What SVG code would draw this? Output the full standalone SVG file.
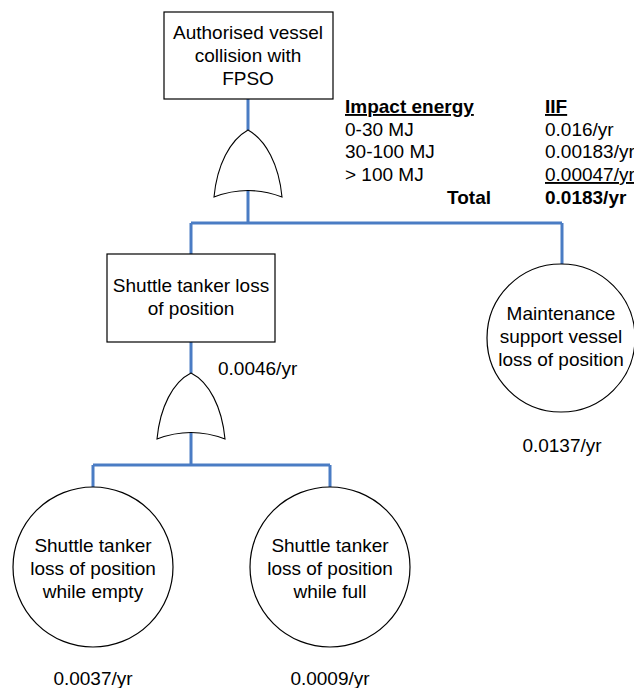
<svg xmlns="http://www.w3.org/2000/svg" width="634" height="688" viewBox="0 0 634 688">
<style>
text{font-family:"Liberation Sans",Arial,sans-serif;font-size:19px;fill:#000}
.c{text-anchor:middle}
.b{font-weight:bold}
.u{text-decoration:underline}
.node{fill:#fff;stroke:#000;stroke-width:1.2}
.gate{fill:#fff;stroke:#000;stroke-width:1.1}
.wire{fill:none;stroke:#4a7cc4;stroke-width:3}
</style>
<rect width="634" height="688" fill="#fff"/>
<g id="connectors">
<path class="wire" d="M248,99V130M248,190V223M191,223H562M191,223V254M562,223V264"/>
<path class="wire" d="M191,342V373M191,433V465M93,465H330M93,465V487M330,465V487"/>
</g>
<g id="top-event">
<rect class="node" x="164" y="12" width="169" height="87"/>
<text class="c" x="248" y="39">Authorised vessel</text>
<text class="c" x="248" y="62">collision with</text>
<text class="c" x="248" y="85">FPSO</text>
</g>
<g id="or-gate-1">
<path class="gate" d="M214,197C217,165 230,140 248,130C266,140 279,165 282,197Q248,184 214,197Z"/>
</g>
<g id="shuttle-tanker">
<rect class="node" x="107" y="254" width="168" height="88"/>
<text class="c" x="191" y="292">Shuttle tanker loss</text>
<text class="c" x="191" y="315">of position</text>
<text x="218" y="375">0.0046/yr</text>
</g>
<g id="or-gate-2">
<path class="gate" d="M157,439C160,407 173,382 191,373C209,382 222,407 225,439Q191,426 157,439Z"/>
</g>
<g id="maintenance-vessel">
<circle class="node" cx="561" cy="338" r="74"/>
<text class="c" x="561" y="320">Maintenance</text>
<text class="c" x="561" y="343">support vessel</text>
<text class="c" x="561" y="366">loss of position</text>
<text class="c" x="562" y="452">0.0137/yr</text>
</g>
<g id="shuttle-empty">
<circle class="node" cx="93" cy="567" r="80"/>
<text class="c" x="93" y="552">Shuttle tanker</text>
<text class="c" x="93" y="575">loss of position</text>
<text class="c" x="93" y="598">while empty</text>
<text class="c" x="93" y="685">0.0037/yr</text>
</g>
<g id="shuttle-full">
<circle class="node" cx="330" cy="567" r="80"/>
<text class="c" x="330" y="552">Shuttle tanker</text>
<text class="c" x="330" y="575">loss of position</text>
<text class="c" x="330" y="598">while full</text>
<text class="c" x="330" y="685">0.0009/yr</text>
</g>
<g id="iif-table">
<text class="b u" x="345" y="113">Impact energy</text>
<text x="345" y="136">0-30 MJ</text>
<text x="345" y="158">30-100 MJ</text>
<text x="345" y="181">&gt; 100 MJ</text>
<text class="b" x="491" y="204" text-anchor="end">Total</text>
<text class="b u" x="545" y="113">IIF</text>
<text x="545" y="136">0.016/yr</text>
<text x="545" y="158">0.00183/yr</text>
<text class="u" x="545" y="181">0.00047/yr</text>
<text class="b" x="545" y="204">0.0183/yr</text>
</g>
</svg>
